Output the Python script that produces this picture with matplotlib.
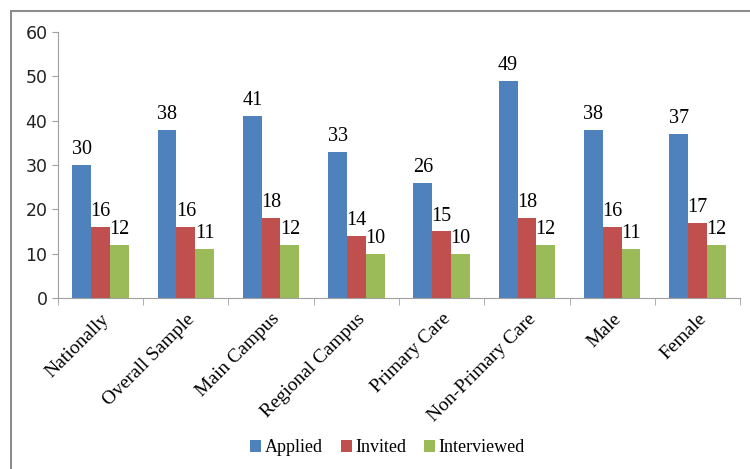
import matplotlib.pyplot as plt
import matplotlib.patches as mpatches
import numpy as np

# Données du graphique
categories = ['Nationally', 'Overall Sample', 'Main Campus', 'Regional Campus',
              'Primary Care', 'Non-Primary Care', 'Male', 'Female']
applied = [30, 38, 41, 33, 26, 49, 38, 37]
invited = [16, 16, 18, 14, 15, 18, 16, 17]
interviewed = [12, 11, 12, 10, 10, 12, 11, 12]
series_names = ['Applied', 'Invited', 'Interviewed']
colors = ['#4F81BD', '#C0504D', '#9BBB59']

serif = 'Liberation Serif'
sans = 'DejaVu Sans'

fig = plt.figure(figsize=(7.5, 4.69), dpi=100)
ax = fig.add_axes([0.0773, 0.3646, 0.9094, 0.5672])

# Cadre gris autour du graphique
border = mpatches.Rectangle((11 / 750, -0.5), 2.0, 0.5 + (1 - 11 / 469),
                            transform=fig.transFigure, fill=False,
                            edgecolor='#8c8c8c', linewidth=1.5, zorder=0)
fig.patches.append(border)

x = np.arange(len(categories))
w = 0.22
for i, (vals, name, col) in enumerate(zip([applied, invited, interviewed], series_names, colors)):
    pos = x + (i - 1) * w
    ax.bar(pos, vals, width=w, color=col, label=name, zorder=2)
    for p, v in zip(pos, vals):
        ax.text(p, v + 1.3, str(v), ha='center', va='bottom',
                fontsize=14.5, family=serif)

ax.set_xlim(-0.5, len(categories) - 0.5)
ax.set_ylim(0, 60)
ax.set_yticks(range(0, 61, 10))
ax.tick_params(axis='y', labelsize=12.5, length=4, color='#a0a0a0')
for lab in ax.get_yticklabels():
    lab.set_family(sans)
    lab.set_color('#222222')

ax.set_xticks(x)
ax.set_xticklabels(categories, rotation=45, ha='right', rotation_mode='anchor',
                   family=serif, fontsize=14)
ax.tick_params(axis='x', length=0, pad=9)
# Graduations entre les catégories
ax.set_xticks(np.arange(-0.5, len(categories)), minor=True)
ax.tick_params(axis='x', which='minor', length=5, color='#a0a0a0')

for s in ['top', 'right']:
    ax.spines[s].set_visible(False)
ax.spines['left'].set_color('#a0a0a0')
ax.spines['bottom'].set_color('#a0a0a0')

leg = fig.legend(loc='center', bbox_to_anchor=(0.517, 0.045), ncol=3, frameon=False,
                 prop={'family': serif, 'size': 13}, handlelength=0.6,
                 handleheight=0.6, handletextpad=0.2, columnspacing=1.0)

plt.savefig('out.png', dpi=100)
